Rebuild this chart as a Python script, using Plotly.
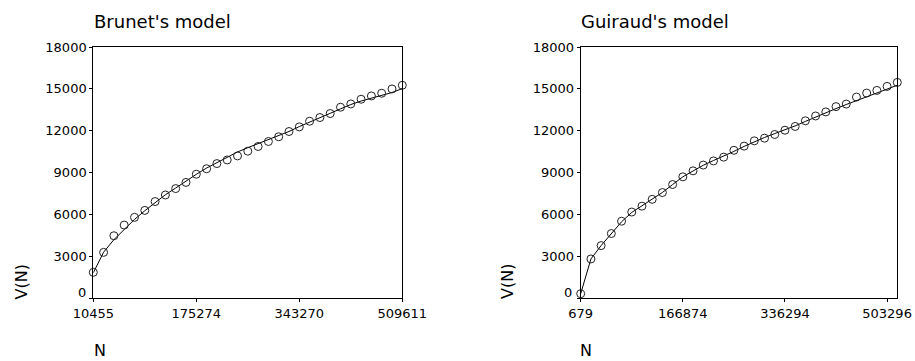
import plotly.graph_objects as go

# ---- Data ----
brunet_tick_labels = ["10455", "175274", "343270", "509611"]
brunet_observed = [1860, 3290, 4480, 5244, 5800, 6295, 6930, 7400, 7860, 8300,
                   8890, 9280, 9650, 9910, 10200, 10538, 10874, 11232, 11570, 11947,
                   12277, 12684, 12949, 13235, 13686, 13922, 14258, 14494, 14687, 14995,
                   15259]
brunet_model = [1830, 3300, 4200, 4950, 5650, 6270, 6880, 7420, 7900, 8400,
                8880, 9330, 9720, 10150, 10480, 10790, 11080, 11360, 11650, 11950,
                12300, 12600, 12920, 13250, 13570, 13880, 14130, 14350, 14520, 14740,
                15020]

guiraud_tick_labels = ["679", "166874", "336294", "503296"]
guiraud_observed = [330, 2818, 3775, 4640, 5522, 6180, 6600, 7090, 7575, 8150,
                    8700, 9130, 9545, 9840, 10111, 10600, 10900, 11280, 11470, 11735,
                    12040, 12310, 12715, 13060, 13350, 13730, 13912, 14414, 14701, 14890,
                    15177, 15463]
guiraud_model = [330, 2818, 3780, 4650, 5480, 6150, 6630, 7110, 7580, 8150,
                 8700, 9120, 9530, 9870, 10180, 10520, 10880, 11220, 11520, 11800,
                 12060, 12350, 12670, 12990, 13300, 13590, 13880, 14160, 14450, 14730,
                 15000, 15260]

y_ticks = [0, 3000, 6000, 9000, 12000, 15000, 18000]
y_tick_labels = ["", "3000", "6000", "9000", "12000", "15000", "18000"]
y_zero_label = "0"

FONT = "DejaVu Sans"
W, H = 915, 361

fig = go.Figure()

b_x = list(range(len(brunet_observed)))
g_x = list(range(len(guiraud_observed)))

fig.add_trace(go.Scatter(x=b_x, y=brunet_model, mode="lines",
                         line=dict(color="black", width=1), xaxis="x", yaxis="y",
                         showlegend=False, cliponaxis=False))
fig.add_trace(go.Scatter(x=b_x, y=brunet_observed, mode="markers",
                         marker=dict(symbol="circle-open", size=8, color="#222",
                                     line=dict(width=1, color="#222")),
                         xaxis="x", yaxis="y", showlegend=False, cliponaxis=False))
fig.add_trace(go.Scatter(x=g_x, y=guiraud_model, mode="lines",
                         line=dict(color="black", width=1), xaxis="x2", yaxis="y2",
                         showlegend=False, cliponaxis=False))
fig.add_trace(go.Scatter(x=g_x, y=guiraud_observed, mode="markers",
                         marker=dict(symbol="circle-open", size=8, color="#222",
                                     line=dict(width=1, color="#222")),
                         xaxis="x2", yaxis="y2", showlegend=False, cliponaxis=False))

def px_x(p):
    return p / W

def px_y(p):
    return (H - p) / H

ydom = [px_y(298.3), px_y(47)]
LEFT1, RIGHT1 = 93.3, 402.3
LEFT2, RIGHT2 = 580.7, 897.3

common_axis = dict(showline=True, mirror=True, linecolor="black", linewidth=1,
                   showgrid=False, zeroline=False, ticks="outside", ticklen=3,
                   tickcolor="black", automargin=False,
                   tickfont=dict(family=FONT, size=13, color="black"))

fig.update_layout(
    width=W, height=H,
    margin=dict(l=0, r=0, t=0, b=0, autoexpand=False),
    paper_bgcolor="white", plot_bgcolor="white",
    xaxis=dict(domain=[px_x(LEFT1), px_x(RIGHT1)], range=[0, len(brunet_observed) - 1],
               tickvals=[0, 10, 20, 30], ticktext=brunet_tick_labels, anchor="y",
               **common_axis),
    yaxis=dict(domain=ydom, range=[0, 18000], tickvals=y_ticks, ticktext=y_tick_labels,
               anchor="x", **common_axis),
    xaxis2=dict(domain=[px_x(LEFT2), px_x(RIGHT2)], range=[0, len(guiraud_observed) - 1],
                tickvals=[0, 10, 20, 30], ticktext=guiraud_tick_labels, anchor="y2",
                **common_axis),
    yaxis2=dict(domain=ydom, range=[0, 18000], tickvals=y_ticks, ticktext=y_tick_labels,
                anchor="x2", **common_axis),
)

annots = [
    dict(text="Brunet's model", x=px_x(92), y=px_y(22), xanchor="left", yanchor="middle",
         font=dict(family=FONT, size=18, color="black")),
    dict(text="Guiraud's model", x=px_x(579), y=px_y(22), xanchor="left", yanchor="middle",
         font=dict(family=FONT, size=18, color="black")),
    dict(text="V(N)", x=px_x(20.5), y=px_y(282), xanchor="center", yanchor="middle",
         textangle=-90, font=dict(family=FONT, size=16, color="black")),
    dict(text="V(N)", x=px_x(507), y=px_y(282), xanchor="center", yanchor="middle",
         textangle=-90, font=dict(family=FONT, size=16, color="black")),
    dict(text="N", x=px_x(100), y=px_y(350), xanchor="center", yanchor="middle",
         font=dict(family=FONT, size=16, color="black")),
    dict(text="N", x=px_x(586), y=px_y(350), xanchor="center", yanchor="middle",
         font=dict(family=FONT, size=16, color="black")),
    dict(text=y_zero_label, x=px_x(LEFT1 - 5), y=px_y(292), xanchor="right", yanchor="middle",
         font=dict(family=FONT, size=13, color="black")),
    dict(text=y_zero_label, x=px_x(LEFT2 - 7), y=px_y(292), xanchor="right", yanchor="middle",
         font=dict(family=FONT, size=13, color="black")),
]
for a in annots:
    fig.add_annotation(xref="paper", yref="paper", showarrow=False, **a)

fig.write_html("out.html", config={"displayModeBar": False},
               post_script="document.body.style.margin='0';")
